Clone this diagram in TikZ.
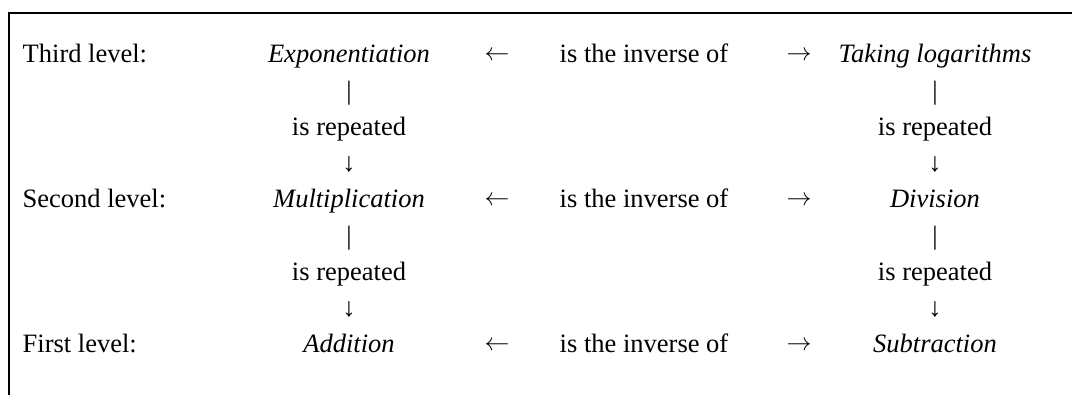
\documentclass[tikz,border=0pt]{standalone}
\usepackage{fontspec}
\setmainfont{Liberation Serif}
\begin{document}
\begin{tikzpicture}[x=1pt,y=-1pt,
  txt/.style={inner sep=0pt,outer sep=0pt,anchor=base,font=\fontsize{26.5}{30}\selectfont},
  lbl/.style={txt,anchor=base west},
  op/.style={txt,font=\fontsize{26.5}{30}\selectfont\itshape},
  arr/.style={txt},
  frame/.style={line width=2pt,line join=miter}]
\useasboundingbox (0,0) rectangle (1072,395);
\draw[frame] (9,395) -- (9,13) -- (1072,13);
% labels
\node[lbl] (l3) at (22.7,63) {Third level:};
\node[lbl] (l2) at (22.7,208) {Second level:};
\node[lbl] (l1) at (22.7,353) {First level:};
% left column
\node[op] (exp) at (349,63) {Exponentiation};
\node[txt] (b1) at (349,99.25) {|};
\node[txt] (r1) at (349,135.5) {is repeated};
\node[txt] (d1) at (349,171.75) {↓};
\node[op] (mul) at (349,208) {Multiplication};
\node[txt] (b2) at (349,244.25) {|};
\node[txt] (r2) at (349,280.5) {is repeated};
\node[txt] (d2) at (349,316.75) {↓};
\node[op] (add) at (349,353) {Addition};
% middle
\node[arr] (la3) at (497,60.5) {$\leftarrow$};
\node[txt] (inv3) at (644,63) {is the inverse of};
\node[arr] (ra3) at (799,60.5) {$\rightarrow$};
\node[arr] (la2) at (497,205.5) {$\leftarrow$};
\node[txt] (inv2) at (644,208) {is the inverse of};
\node[arr] (ra2) at (799,205.5) {$\rightarrow$};
\node[arr] (la1) at (497,350.5) {$\leftarrow$};
\node[txt] (inv1) at (644,353) {is the inverse of};
\node[arr] (ra1) at (799,350.5) {$\rightarrow$};
% right column
\node[op] (log) at (935,63) {Taking logarithms};
\node[txt] (b3) at (935,99.25) {|};
\node[txt] (r3) at (935,135.5) {is repeated};
\node[txt] (d3) at (935,171.75) {↓};
\node[op] (div) at (935,208) {Division};
\node[txt] (b4) at (935,244.25) {|};
\node[txt] (r4) at (935,280.5) {is repeated};
\node[txt] (d4) at (935,316.75) {↓};
\node[op] (sub) at (935,353) {Subtraction};
\end{tikzpicture}
\end{document}
